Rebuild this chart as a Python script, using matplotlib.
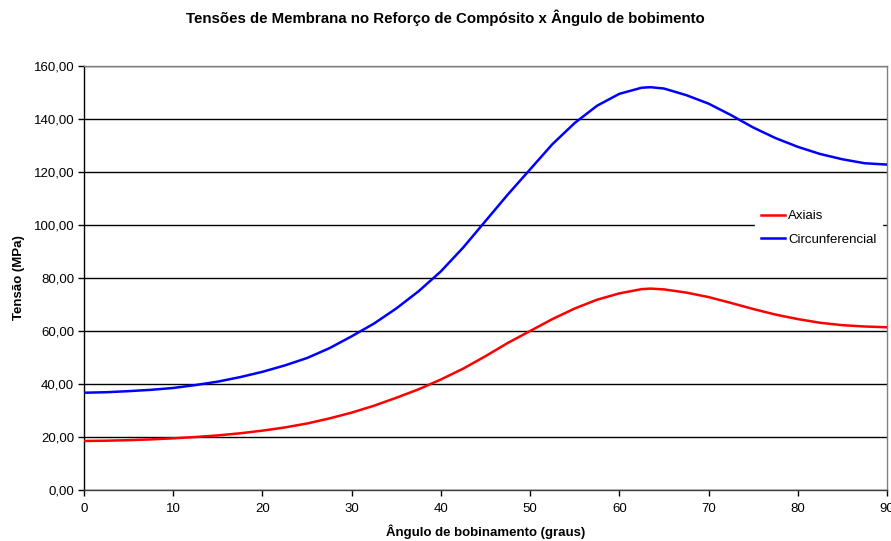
import matplotlib
matplotlib.use("Agg")
import matplotlib.pyplot as plt

angles = [0, 2.5, 5, 7.5, 10, 12.5, 15, 17.5, 20, 22.5, 25, 27.5, 30, 32.5, 35, 37.5,
          40, 42.5, 45, 47.5, 50, 52.5, 55, 57.5, 60, 62.5, 63.5, 65, 67.5, 70, 72.5,
          75, 77.5, 80, 82.5, 85, 87.5, 90]
circunferencial = [36.7, 36.9, 37.3, 37.8, 38.5, 39.6, 40.9, 42.6, 44.6, 47.0, 49.8, 53.5,
                   58.0, 62.8, 68.5, 75.0, 82.5, 91.5, 101.5, 111.5, 121.0, 130.5, 138.5,
                   145.0, 149.5, 151.8, 152.0, 151.5, 149.0, 145.8, 141.5, 136.8, 132.8,
                   129.5, 126.8, 124.8, 123.3, 122.8]
axiais = [18.5, 18.6, 18.8, 19.1, 19.5, 20.0, 20.6, 21.4, 22.4, 23.6, 25.1, 27.0, 29.2,
          31.8, 34.8, 38.0, 41.7, 45.8, 50.5, 55.5, 60.0, 64.5, 68.5, 71.8, 74.2, 75.8,
          76.0, 75.7, 74.5, 72.8, 70.6, 68.3, 66.2, 64.5, 63.1, 62.2, 61.7, 61.4]

x_ticks = [0, 10, 20, 30, 40, 50, 60, 70, 80, 90]
y_ticks = [0, 20, 40, 60, 80, 100, 120, 140, 160]
y_labels = ["0,00", "20,00", "40,00", "60,00", "80,00", "100,00", "120,00", "140,00", "160,00"]

plt.rcParams['font.family'] = ['Liberation Sans', 'DejaVu Sans']

fig = plt.figure(figsize=(8.91, 5.41), dpi=100)
ax = fig.add_axes([84/891, 51/541, (887-84)/891, (490-66)/541])

ax.plot(angles, axiais, color='#ff0000', lw=1.8, label='Axiais', zorder=3)
ax.plot(angles, circunferencial, color='#0000ff', lw=1.8, label='Circunferencial', zorder=3)

ax.set_xlim(0, 90)
ax.set_ylim(0, 160)
ax.set_xticks(x_ticks)
ax.set_xticklabels([str(t) for t in x_ticks])
ax.set_yticks(y_ticks)
ax.set_yticklabels(y_labels)
ax.tick_params(axis='both', direction='out', length=4, width=1, labelsize=9.5, colors='black')
ax.tick_params(axis='y', pad=3)
ax.tick_params(axis='x', pad=5)

ax.yaxis.grid(True, color='black', lw=1)
ax.set_axisbelow(True)

ax.spines['left'].set_color('black')
ax.spines['bottom'].set_color('#404040')
ax.spines['top'].set_color('#808080')
ax.spines['right'].set_color('#808080')
for s in ax.spines.values():
    s.set_linewidth(1)

ax.set_xlabel('Ângulo de bobinamento (graus)', fontsize=9.5, fontweight='bold', labelpad=7)
ax.set_ylabel('Tensão (MPa)', fontsize=9.5, fontweight='bold', labelpad=6)
fig.suptitle('Tensões de Membrana no Reforço de Compósito x Ângulo de bobimento',
             fontsize=10.8, fontweight='bold', y=1 - 18/541, va='center')

leg = ax.legend(loc='center left', bbox_to_anchor=(0.828, 0.618), frameon=True,
                fontsize=9.5, handlelength=1.8, handletextpad=0.3, borderpad=0.4,
                labelspacing=0.85)
leg.get_frame().set_edgecolor('white')
leg.get_frame().set_facecolor('white')
leg.get_frame().set_alpha(1)
leg.get_frame().set_boxstyle('square', pad=0)

fig.savefig('out.png', dpi=100)
